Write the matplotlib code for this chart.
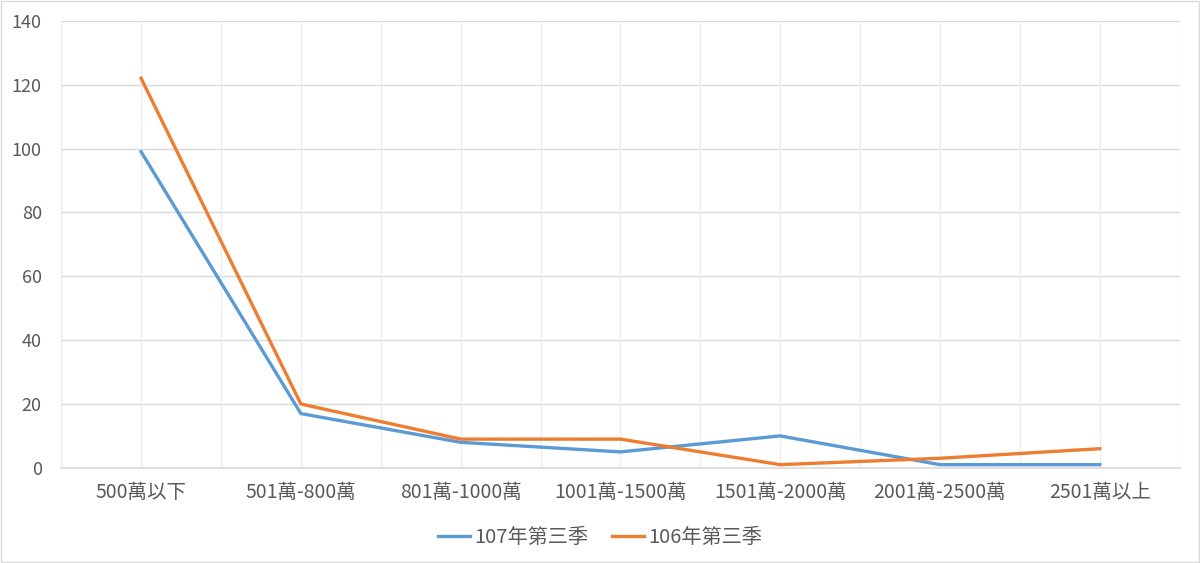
import numpy as np
import matplotlib
matplotlib.use("Agg")
import matplotlib.pyplot as plt

plt.rcParams['font.family'] = ['Noto Sans CJK TC', 'DejaVu Sans']

# 資料
categories = ['500萬以下', '501萬-800萬', '801萬-1000萬', '1001萬-1500萬',
              '1501萬-2000萬', '2001萬-2500萬', '2501萬以上']
q3_107 = [99, 17, 8, 5, 10, 1, 1]
q3_106 = [122, 20, 9, 9, 1, 3, 6]
series_names = ['107年第三季', '106年第三季']
y_ticks = [0, 20, 40, 60, 80, 100, 120, 140]

text_color = '#595959'

fig = plt.figure(figsize=(12, 5.63), dpi=100)
ax = fig.add_axes([0.051, 0.169, 0.932, 0.794])

x = np.arange(len(categories))
ax.plot(x, q3_107, color='#5B9BD5', lw=2.4, label=series_names[0], solid_joinstyle='round')
ax.plot(x, q3_106, color='#ED7D31', lw=2.4, label=series_names[1], solid_joinstyle='round')

ax.set_xlim(-0.5, len(categories) - 0.5)
ax.set_ylim(0, 140)
ax.set_yticks(y_ticks)
ax.set_xticks(x)
ax.set_xticklabels(categories)

# 格線
for v in y_ticks[1:]:
    ax.axhline(v, color='#D9D9D9', lw=1, zorder=0)
for v in np.arange(-0.5, len(categories), 0.5):
    ax.axvline(v, color='#ECECEC', lw=1, zorder=0)

for s in ['top', 'right', 'left']:
    ax.spines[s].set_visible(False)
ax.spines['bottom'].set_color('#D9D9D9')
ax.spines['bottom'].set_linewidth(1.2)

ax.tick_params(axis='both', length=0, colors=text_color)
ax.tick_params(axis='y', labelsize=13, pad=14)
ax.tick_params(axis='x', labelsize=14, pad=10)

leg = fig.legend(loc='center', bbox_to_anchor=(0.5, 0.046), ncol=2, frameon=False,
                 fontsize=14.5, handlelength=1.6, columnspacing=1.2, handletextpad=0.2)
for t in leg.get_texts():
    t.set_color(text_color)

# 外框
fig.patches.append(plt.Rectangle((0.001, 0.001), 0.998, 0.998, transform=fig.transFigure,
                                 fill=False, edgecolor='#D9D9D9', lw=1))

fig.savefig('out.png', dpi=100)
